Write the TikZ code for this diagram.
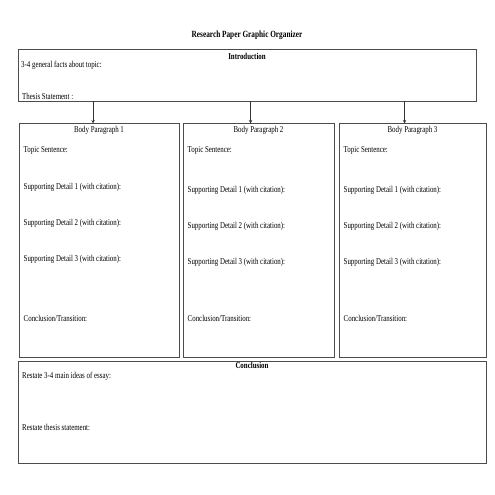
\documentclass[tikz,border=0pt]{standalone}
\usepackage{fontspec}
\setmainfont{Liberation Serif}[FakeStretch=0.77]
\usetikzlibrary{arrows}
\tikzstyle{boxNode} = [rectangle, draw=black!70, line width=1pt, inner sep=0pt]
\tikzstyle{txtNode} = [anchor=west, inner sep=0pt, font=\fontsize{9}{10}\selectfont]
\tikzstyle{headNode} = [inner sep=0pt, font=\fontsize{9}{10}\selectfont]
\tikzstyle{arrow} = [->,>=stealth,draw=black!80,line width=0.6pt]
\begin{document}
\begin{tikzpicture}[x=1bp,y=-1bp]
        \useasboundingbox (0,0) rectangle (495,495);
        \node (title) [headNode, font=\fontsize{9.5}{10}\selectfont\bfseries] at (247,35) {Research Paper Graphic  Organizer};

        \node (intro) [boxNode, minimum width=457bp, minimum height=51bp] at (247.5,75.5) {};
        \node (b1) [boxNode, minimum width=160bp, minimum height=233bp] at (99,240.5) {};
        \node (b2) [boxNode, minimum width=151bp, minimum height=233bp] at (258.5,240.5) {};
        \node (b3) [boxNode, minimum width=147bp, minimum height=233bp] at (412.5,240.5) {};
        \node (concl) [boxNode, minimum width=467bp, minimum height=102bp] at (252.5,412) {};

        % introduction
        \node (introHead) [headNode, font=\fontsize{9}{10}\selectfont\bfseries] at (247,56) {Introduction};
        \node (facts) [txtNode] at (21,65) {3-4 general facts about topic:};
        \node (thesis) [txtNode] at (22,96) {Thesis Statement :};

        % body paragraphs
        \foreach \i/\dy in {1/0,2/3,3/3} {
            \node (head\i) [headNode] at ([yshift=-7bp]b\i.north) {Body Paragraph \i};
            \node (topic\i) [txtNode] at ([xshift=5bp,yshift=-27bp]b\i.north west) {Topic Sentence:};
            \node (sdA\i) [txtNode] at ([xshift=5bp,yshift=-64bp-\dy bp]b\i.north west) {Supporting  Detail 1 (with citation):};
            \node (sdB\i) [txtNode] at ([xshift=5bp,yshift=-100bp-\dy bp]b\i.north west) {Supporting  Detail 2 (with citation):};
            \node (sdC\i) [txtNode] at ([xshift=5bp,yshift=-136bp-\dy bp]b\i.north west) {Supporting  Detail 3 (with citation):};
            \node (trans\i) [txtNode] at ([xshift=5bp,yshift=-195bp]b\i.north west) {Conclusion/Transition:};
        }

        % conclusion
        \node (conclHead) [headNode, font=\fontsize{9}{10}\selectfont\bfseries] at (252,365) {Conclusion};
        \node (restateA) [txtNode] at (22,376) {Restate 3-4 main ideas of essay:};
        \node (restateB) [txtNode] at (22,427) {Restate thesis statement:};

        \draw [arrow] ([xshift=-6bp]b1.north |- intro.south) -- ([xshift=-6bp]b1.north);
        \draw [arrow] ([xshift=-8bp]b2.north |- intro.south) -- ([xshift=-8bp]b2.north);
        \draw [arrow] ([xshift=-8bp]b3.north |- intro.south) -- ([xshift=-8bp]b3.north);
\end{tikzpicture}
\end{document}
